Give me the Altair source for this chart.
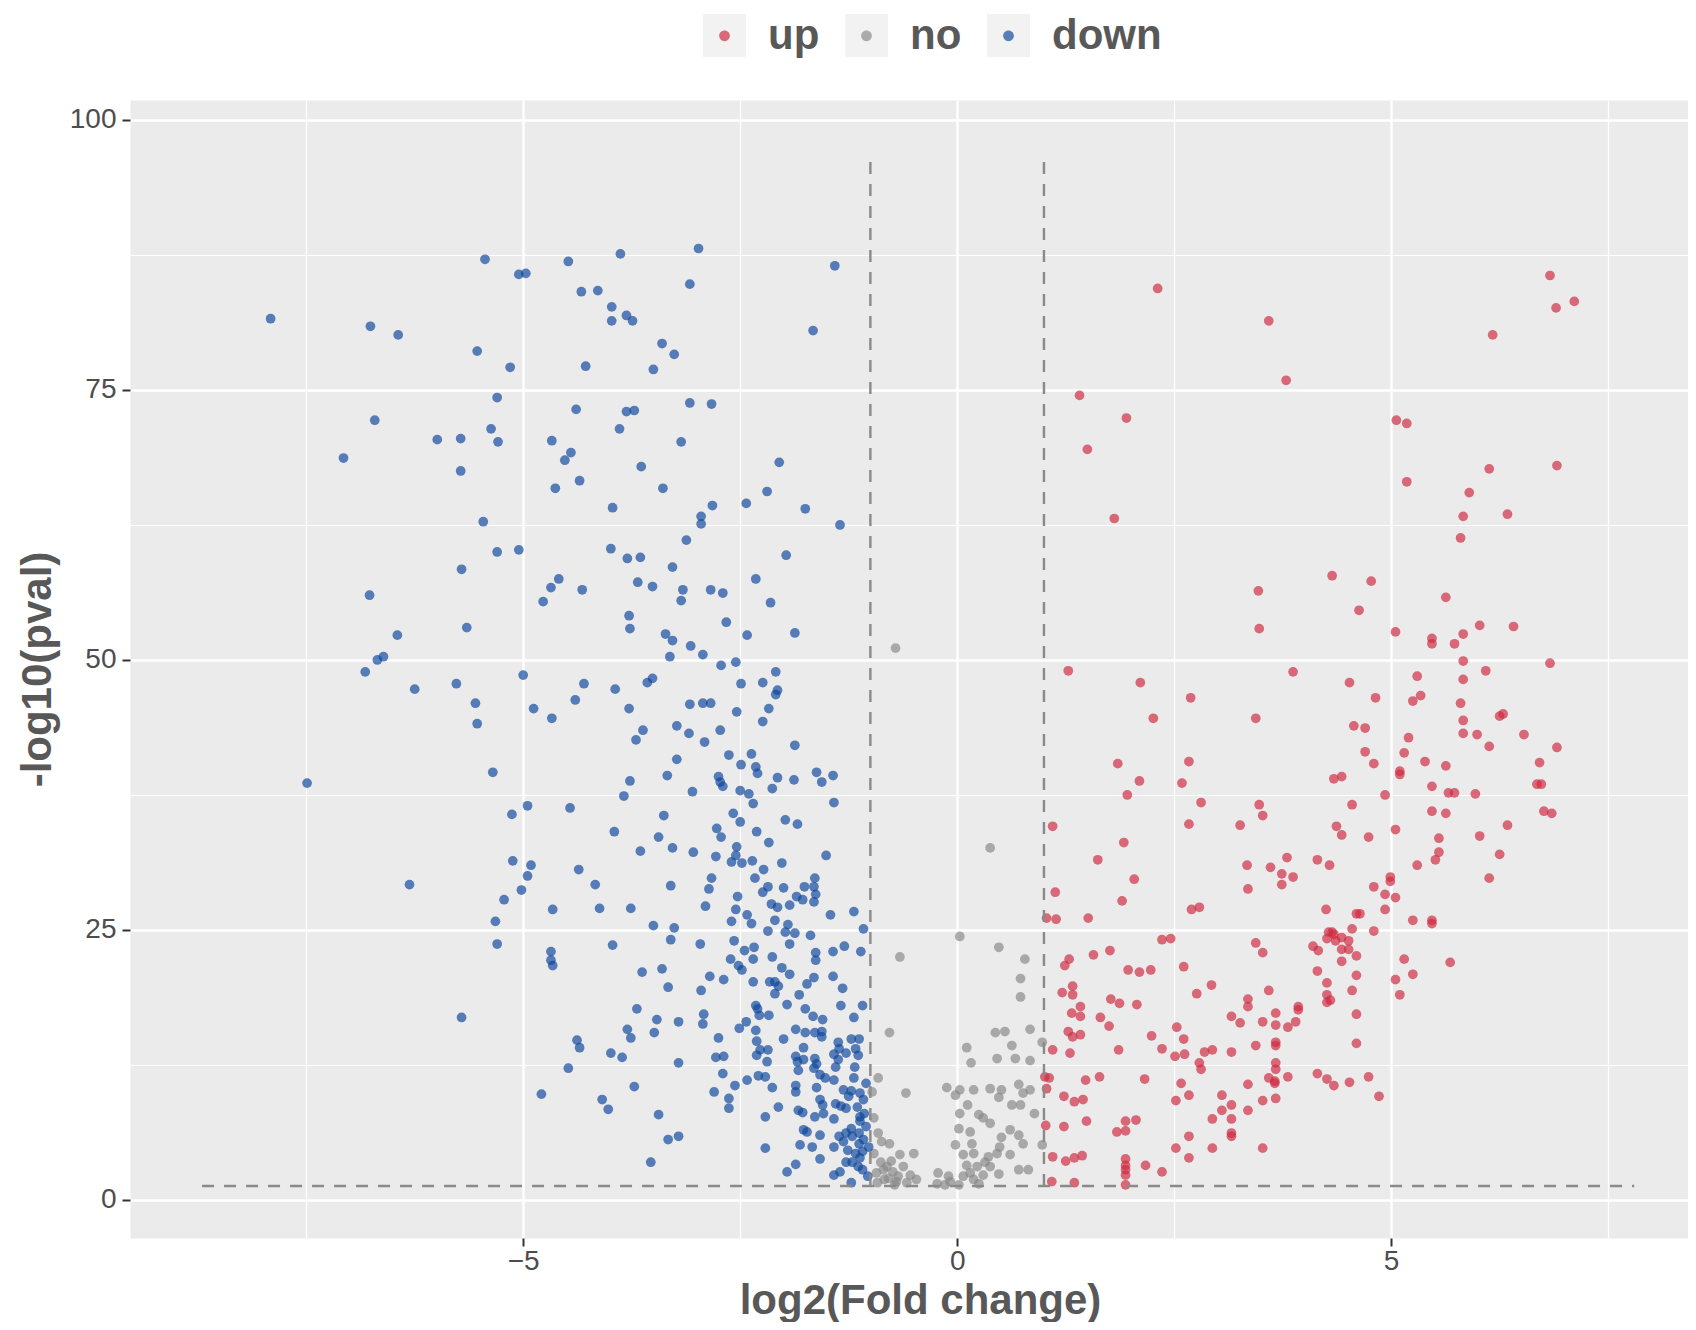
import altair as alt
import pandas as pd

# ---------------- data ----------------
groups = ["up", "no", "down"]
key_ids = ["up_", "no_", "down_"]          # same labels, own domain for the key-background legend
colors = ["#CE2A40", "#878787", "#0E479C"]

x_ticks = [-7.5, -5, -2.5, 0, 2.5, 5, 7.5]
y_ticks = [0, 12.5, 25, 37.5, 50, 62.5, 75, 87.5, 100]

pval_cut = 1.3          # -log10(0.05)
fc_cuts = [-1, 1]       # log2 fold-change thresholds
hline_span = [-8.7, 7.8]
vline_top = 97

down_pts = [
    (-7.91, 81.6), (-5.44, 87.1), (-5.05, 85.7), (-4.97, 85.8), (-6.76, 80.9), (-6.44, 80.1), (-5.53, 78.6),
    (-5.15, 77.1), (-5.30, 74.3), (-6.71, 72.2), (-5.37, 71.4), (-5.99, 70.4), (-5.72, 70.5), (-5.29, 70.2),
    (-7.07, 68.7), (-5.72, 67.5),
    (-2.98, 88.1), (-3.88, 87.6), (-4.48, 86.9), (-1.41, 86.5), (-3.08, 84.8), (-4.33, 84.1), (-4.14, 84.2),
    (-3.98, 82.7), (-3.81, 81.9), (-3.74, 81.4), (-3.98, 81.4), (-1.66, 80.5), (-3.40, 79.3), (-3.26, 78.3),
    (-4.28, 77.2), (-3.50, 76.9), (-3.08, 73.8), (-2.83, 73.7), (-4.39, 73.2), (-3.81, 73.0), (-3.72, 73.1),
    (-3.89, 71.4), (-4.67, 70.3), (-3.18, 70.2), (-4.45, 69.2), (-4.52, 68.5), (-2.05, 68.3), (-3.64, 67.9),
    (-4.35, 66.6), (-4.63, 65.9), (-3.39, 65.9), (-2.19, 65.6),
    (-5.46, 62.8), (-5.30, 60.0), (-5.05, 60.2), (-5.71, 58.4), (-6.77, 56.0), (-5.65, 53.0), (-6.45, 52.3),
    (-6.61, 50.3), (-6.68, 50.0), (-6.82, 48.9), (-6.25, 47.3), (-5.77, 47.8), (-5.55, 46.0), (-5.53, 44.1),
    (-5.00, 48.6), (-4.88, 45.5), (-4.77, 55.4), (-5.35, 39.6), (-7.49, 38.6), (-4.95, 36.5), (-5.13, 35.7),
    (-5.12, 31.4), (-4.91, 31.0), (-4.95, 30.0),
    (-3.97, 64.1), (-2.82, 64.3), (-2.43, 64.5), (-1.75, 64.0), (-2.95, 63.3), (-2.95, 62.6), (-1.35, 62.5),
    (-3.12, 61.1), (-3.99, 60.3), (-3.80, 59.4), (-3.65, 59.5), (-1.97, 59.7), (-3.28, 58.6), (-4.59, 57.5),
    (-4.68, 56.7), (-4.32, 56.5), (-3.68, 57.2), (-3.51, 56.8), (-3.16, 56.5), (-3.18, 55.5), (-2.84, 56.5),
    (-2.70, 56.2), (-2.32, 57.5), (-2.15, 55.3), (-3.78, 54.1), (-3.77, 52.9), (-2.66, 53.5), (-3.36, 52.4),
    (-3.28, 51.8), (-2.42, 52.3), (-1.87, 52.5), (-3.07, 51.3), (-2.93, 50.5), (-3.31, 50.3), (-2.72, 49.5),
    (-2.55, 49.8), (-2.09, 48.9), (-4.30, 47.8), (-3.94, 47.3), (-3.57, 47.9), (-3.51, 48.3), (-2.49, 47.8),
    (-2.24, 47.9), (-2.07, 47.2), (-2.09, 46.8), (-4.40, 46.3), (-3.78, 45.5), (-3.08, 45.9), (-2.93, 46.0),
    (-2.84, 46.0), (-2.54, 45.2), (-2.17, 45.5), (-4.67, 44.6), (-2.24, 44.3), (-3.23, 43.9), (-3.09, 43.2),
    (-3.62, 43.5), (-3.70, 42.6), (-2.91, 42.4), (-2.73, 43.5), (-1.87, 42.1), (-2.63, 41.2), (-2.37, 41.3),
    (-3.23, 40.8), (-2.49, 40.3), (-2.32, 40.1), (-2.30, 39.5), (-3.34, 39.3), (-2.75, 39.2), (-2.73, 38.7),
    (-2.70, 38.3), (-2.07, 39.1), (-1.88, 38.9), (-1.62, 39.6), (-1.56, 38.7), (-1.43, 39.3), (-2.13, 38.1),
    (-3.77, 38.8), (-3.84, 37.4), (-3.05, 37.8), (-2.50, 37.9), (-2.40, 37.6), (-2.35, 36.7), (-1.42, 36.8),
    (-4.46, 36.3), (-3.38, 35.6), (-2.58, 35.8), (-2.50, 35.0), (-1.98, 35.2), (-1.84, 34.8), (-3.95, 34.1),
    (-2.77, 34.4), (-2.72, 33.6), (-2.31, 34.1), (-2.17, 33.1), (-3.44, 33.6), (-3.28, 32.6), (-3.65, 32.3),
    (-3.04, 32.2), (-2.78, 31.8), (-2.54, 32.7), (-2.55, 31.9), (-2.60, 31.3), (-2.48, 31.2), (-2.36, 31.4),
    (-2.23, 30.6), (-2.02, 31.2), (-1.51, 31.9), (-4.36, 30.6), (-2.83, 29.8), (-2.33, 29.8), (-1.64, 29.8),
    (-6.31, 29.2), (-5.02, 28.7), (-5.22, 27.8), (-5.32, 25.8), (-5.30, 23.7), (-5.71, 16.9), (-4.79, 9.8),
    (-4.17, 29.2), (-3.30, 29.1), (-2.86, 28.8), (-1.65, 29.0), (-1.63, 28.3), (-2.18, 29.0), (-2.24, 28.5),
    (-2.00, 28.9), (-1.76, 29.0), (-4.66, 26.9), (-4.12, 27.0), (-3.76, 27.0), (-2.90, 27.2), (-2.53, 28.1),
    (-2.55, 26.9), (-2.14, 27.4), (-2.07, 27.1), (-1.93, 27.3), (-1.85, 28.1), (-1.78, 27.8), (-1.65, 27.6),
    (-1.19, 26.7), (-1.46, 26.4), (-2.42, 26.4), (-2.37, 25.6), (-2.60, 25.8), (-2.10, 25.9), (-3.50, 25.4),
    (-3.26, 25.2), (-2.18, 24.9), (-1.95, 25.5), (-1.98, 24.8), (-1.87, 24.7), (-1.69, 24.5), (-1.08, 25.1),
    (-3.30, 24.1), (-3.97, 23.6), (-2.96, 23.7), (-2.57, 24.0), (-2.34, 23.4), (-1.93, 23.7), (-1.30, 23.5),
    (-4.68, 23.0), (-4.68, 22.2), (-4.66, 21.7), (-2.45, 23.1), (-2.35, 22.3), (-2.13, 22.5), (-1.63, 22.9),
    (-1.63, 22.2), (-1.43, 23.0), (-1.11, 23.0), (-2.61, 22.3), (-2.52, 21.7), (-2.48, 21.3), (-3.63, 21.1),
    (-3.40, 21.4), (-2.02, 21.5), (-1.93, 20.9), (-2.85, 20.7), (-2.69, 20.4), (-2.35, 20.2), (-2.16, 20.2),
    (-2.10, 20.2), (-2.06, 19.8), (-1.65, 20.6), (-1.73, 20.0), (-1.43, 20.7), (-3.33, 19.7), (-2.95, 19.4),
    (-2.10, 19.1), (-1.82, 19.0), (-1.32, 19.6), (-2.32, 18.0), (-2.30, 17.7), (-1.96, 18.1), (-1.75, 17.7),
    (-1.34, 18.0), (-1.09, 18.0), (-3.69, 17.7), (-2.28, 17.1), (-2.17, 17.1), (-1.66, 17.0), (-1.55, 16.7),
    (-1.19, 16.9), (-3.46, 16.7), (-3.21, 16.5), (-2.92, 17.2), (-2.93, 16.3), (-3.80, 15.8), (-3.49, 15.5),
    (-3.76, 15.0), (-2.51, 15.9), (-2.43, 16.5), (-2.32, 15.7), (-1.86, 15.8), (-1.75, 15.5), (-1.64, 15.5),
    (-1.56, 15.6), (-1.56, 15.1), (-2.75, 15.0), (-2.00, 14.9), (-2.31, 14.7), (-1.37, 14.6), (-1.22, 14.9),
    (-1.13, 14.9), (-4.38, 14.8), (-4.35, 14.1), (-2.27, 13.9), (-2.18, 13.9), (-1.77, 14.1), (-1.36, 14.0),
    (-1.17, 14.0), (-3.99, 13.6), (-3.86, 13.2), (-2.78, 13.2), (-2.69, 13.3), (-2.31, 13.4), (-1.86, 13.3),
    (-1.64, 13.1), (-1.42, 13.5), (-1.14, 13.4), (-3.21, 12.7), (-2.19, 12.8), (-1.84, 12.8), (-1.77, 13.0),
    (-1.62, 12.6), (-1.37, 13.0), (-1.40, 12.3), (-4.48, 12.2), (-2.70, 11.7), (-1.83, 12.0), (-1.65, 12.2),
    (-1.58, 11.6), (-1.52, 11.3), (-1.42, 11.1), (-1.19, 11.3), (-2.29, 11.5), (-2.21, 11.4), (-2.56, 10.6),
    (-2.42, 11.1), (-2.13, 10.4), (-1.86, 10.6), (-1.86, 10.0), (-1.62, 10.4), (-1.31, 10.2), (-1.22, 10.1),
    (-1.12, 9.9), (-1.08, 9.3), (-3.72, 10.5), (-2.80, 10.0), (-2.63, 9.4), (-2.63, 8.5), (-4.09, 9.3),
    (-4.02, 8.4), (-2.06, 8.6), (-1.83, 8.3), (-1.78, 8.1), (-1.58, 9.3), (-1.55, 8.8), (-1.54, 8.0),
    (-1.64, 7.7), (-1.40, 8.9), (-1.34, 8.7), (-1.28, 8.5), (-1.42, 7.5), (-1.12, 7.7), (-1.12, 7.3),
    (-1.07, 8.0), (-3.44, 7.9), (-2.21, 7.7), (-1.77, 6.5), (-1.73, 6.3), (-1.58, 6.0), (-1.36, 5.9),
    (-1.28, 6.2), (-1.22, 6.6), (-1.21, 5.9), (-1.31, 5.4), (-1.13, 6.2), (-1.08, 5.6), (-1.13, 5.2),
    (-3.33, 5.6), (-3.21, 5.9), (-1.81, 5.1), (-1.67, 4.9), (-1.42, 4.9), (-2.21, 4.8), (-1.17, 4.3),
    (-1.09, 4.5), (-1.58, 3.8), (-1.28, 3.5), (-1.21, 3.5), (-1.12, 3.9), (-3.53, 3.5), (-1.86, 3.3),
    (-1.96, 2.6), (-1.42, 2.3), (-1.35, 2.6), (-1.09, 2.8), (-1.22, 1.6),
    (-1.05, 6.8), (-1.15, 8.6), (-1.25, 9.6), (-1.05, 10.8), (-1.18, 12.3), (-1.28, 13.6), (-1.02, 4.9),
    (-1.26, 4.6), (-1.14, 3.1), (-1.03, 2.2),
]

no_pts = [
    (-0.71, 51.1), (0.38, 32.6), (-0.66, 22.5), (-0.78, 15.5), (-0.91, 11.3), (-0.59, 9.9), (-0.12, 10.4),
    (-0.98, 10.0), (-0.96, 7.6), (-0.91, 6.2), (-0.78, 5.2), (-0.87, 5.4), (-0.50, 4.3), (-0.66, 4.2),
    (-0.96, 4.3), (-0.88, 3.5), (-0.81, 3.1), (-0.74, 2.6), (-0.62, 3.1), (-0.54, 2.3), (-0.79, 2.0),
    (-0.70, 1.7), (-0.84, 1.9), (-0.47, 1.9), (-0.22, 2.5), (-0.10, 2.2), (-0.23, 1.5), (-0.93, 2.5),
    (-0.72, 1.4), (-0.85, 2.8), (-0.68, 2.2), (-0.58, 1.6), (-0.76, 3.6), (-0.92, 1.6),
    (0.03, 24.4), (0.48, 23.4), (0.78, 22.3), (0.73, 20.5), (0.73, 18.8), (0.44, 15.5), (0.55, 15.6),
    (0.84, 15.8), (0.98, 14.6), (0.11, 14.1), (0.63, 14.3), (0.46, 13.1), (0.67, 13.1), (0.84, 12.9),
    (0.16, 12.7), (0.03, 10.2), (0.19, 10.2), (0.38, 10.3), (0.51, 10.2), (0.48, 9.5), (0.71, 10.7),
    (0.76, 9.9), (0.84, 10.2), (-0.02, 9.7), (0.63, 8.8), (0.73, 8.8), (0.12, 8.8), (0.03, 8.0),
    (0.25, 7.9), (0.30, 7.6), (0.38, 7.1), (0.89, 8.0), (0.02, 6.6), (0.15, 6.3), (0.61, 6.5),
    (0.51, 5.8), (0.71, 6.0), (0.76, 5.2), (0.98, 5.1), (-0.02, 5.1), (0.17, 5.2), (0.49, 4.9),
    (0.07, 4.2), (0.19, 4.3), (0.36, 4.0), (0.46, 4.3), (0.61, 4.2), (0.11, 3.2), (0.23, 3.1),
    (0.32, 3.5), (0.38, 3.1), (0.71, 2.8), (0.82, 2.8), (0.15, 2.5), (0.30, 2.3), (0.48, 2.4),
    (-0.08, 1.7), (0.02, 1.4), (0.19, 1.9), (0.25, 1.5), (-0.14, 1.4), (0.07, 2.2),
]

up_pts = [
    (2.31, 84.4), (3.59, 81.4), (3.79, 75.9), (1.41, 74.5), (1.95, 72.4), (1.50, 69.5),
    (6.83, 85.6), (6.90, 82.6), (7.11, 83.2), (6.17, 80.1), (5.06, 72.2), (5.18, 71.9), (5.18, 66.5),
    (6.13, 67.7), (6.91, 68.0), (5.90, 65.5),
    (1.81, 63.1), (3.47, 56.4), (3.48, 52.9), (1.28, 49.0), (3.87, 48.9), (2.11, 47.9), (2.69, 46.5),
    (2.26, 44.6), (3.44, 44.6), (1.85, 40.4), (2.67, 40.6), (2.10, 38.8), (2.59, 38.6), (1.96, 37.5),
    (2.81, 36.8), (3.48, 36.6), (3.52, 35.6), (1.10, 34.6), (2.67, 34.8), (3.26, 34.7), (1.92, 33.1),
    (1.62, 31.5), (3.34, 31.0), (3.61, 30.8), (3.80, 31.7), (4.15, 31.5), (3.74, 30.2), (3.87, 29.9),
    (2.04, 29.7), (4.29, 31.0),
    (5.83, 63.3), (6.34, 63.5), (5.80, 61.3), (4.32, 57.8), (4.77, 57.3), (5.63, 55.8), (4.63, 54.6),
    (5.05, 52.6), (5.47, 52.0), (5.47, 51.5), (5.73, 51.5), (5.83, 52.4), (6.02, 53.2), (6.41, 53.1),
    (5.83, 49.9), (6.83, 49.7), (6.09, 49.0), (5.30, 48.5), (4.52, 47.9), (5.83, 48.2), (4.82, 46.5),
    (5.25, 46.2), (5.34, 46.7), (5.80, 46.0), (6.25, 44.8), (6.29, 45.0), (5.83, 44.4), (4.57, 43.9),
    (4.70, 43.7), (5.83, 43.2), (5.99, 43.1), (6.53, 43.1), (5.20, 42.8), (6.13, 42.0), (6.91, 41.9),
    (4.70, 41.5), (5.15, 41.4), (5.39, 40.6), (4.80, 40.4), (5.63, 40.2), (6.71, 40.5), (5.10, 39.7),
    (5.10, 39.4), (4.34, 39.0), (4.43, 39.2), (5.47, 38.3), (6.68, 38.5), (6.73, 38.5), (4.93, 37.5),
    (5.66, 37.7), (5.73, 37.7), (5.97, 37.6), (4.55, 36.6), (5.47, 36.0), (5.63, 35.8), (6.76, 36.0),
    (6.85, 35.8), (4.37, 34.6), (4.43, 33.8), (4.74, 33.6), (5.05, 34.3), (5.55, 33.5), (6.02, 33.7),
    (6.34, 34.7), (5.55, 32.2), (5.51, 31.5), (6.25, 32.0), (5.30, 31.0), (4.99, 29.9), (6.13, 29.8),
    (3.35, 28.8), (3.74, 29.2), (4.25, 26.9), (1.13, 28.5), (1.90, 27.7), (2.70, 26.9), (2.79, 27.1),
    (1.03, 26.1), (1.14, 26.0), (1.51, 26.1), (2.36, 24.1), (2.46, 24.2), (3.44, 23.8), (3.52, 22.9),
    (4.10, 23.5), (4.16, 23.1), (4.28, 24.8), (4.26, 24.2), (1.29, 22.3), (1.24, 21.7), (1.57, 22.7),
    (1.76, 23.1), (1.97, 21.3), (2.10, 21.1), (2.23, 21.3), (2.61, 21.6), (4.15, 21.2), (4.26, 20.1),
    (1.21, 19.2), (1.33, 19.8), (1.33, 19.0), (2.76, 19.1), (2.93, 19.9), (3.59, 19.4), (4.26, 19.0),
    (4.26, 18.3), (1.77, 18.6), (1.87, 18.2), (2.07, 18.1), (1.42, 17.9), (1.32, 17.3), (1.42, 17.0),
    (3.35, 18.6), (3.35, 17.9), (3.93, 17.9), (3.93, 17.6), (3.67, 17.3), (3.16, 17.0), (3.26, 16.4),
    (3.52, 16.5), (3.67, 16.2), (3.81, 16.0), (3.90, 16.5), (1.65, 16.9), (1.75, 16.1), (1.28, 15.6),
    (1.33, 15.1), (1.42, 15.3), (2.24, 15.2), (2.53, 16.0), (2.61, 14.9), (1.10, 13.9), (1.30, 13.6),
    (1.86, 13.9), (2.36, 14.0), (2.51, 13.3), (2.62, 13.5), (2.85, 13.7), (2.94, 13.9), (3.16, 13.7),
    (3.44, 14.3), (3.67, 14.6), (3.67, 14.3), (2.79, 12.7), (2.81, 12.1), (3.67, 12.7), (3.67, 12.1),
    (4.15, 11.7), (4.26, 11.2), (3.59, 11.3), (3.66, 11.0), (3.66, 10.8), (3.81, 11.4), (1.01, 11.4),
    (1.06, 11.3), (1.03, 10.3), (1.48, 11.1), (1.64, 11.4), (2.16, 11.2), (2.58, 10.8), (3.35, 10.7),
    (1.23, 9.6), (1.35, 9.1), (1.45, 9.3), (2.52, 9.2), (2.67, 9.7), (3.05, 9.7), (3.16, 8.8),
    (3.52, 9.2), (3.67, 9.4), (3.05, 8.3), (3.35, 8.3), (3.16, 7.5), (2.94, 7.5), (1.49, 7.3),
    (1.94, 7.3), (2.06, 7.4), (1.84, 6.3), (1.94, 6.4), (1.02, 6.9), (1.23, 6.8), (3.16, 6.2),
    (3.16, 5.9), (2.67, 5.9), (2.52, 4.8), (2.94, 4.8), (3.52, 4.8), (2.67, 3.9), (1.10, 4.0),
    (1.25, 3.6), (1.35, 3.9), (1.44, 4.1), (1.94, 3.8), (1.94, 3.2), (1.94, 2.8), (1.94, 2.3),
    (1.94, 1.4), (2.17, 3.2), (2.36, 2.6), (1.09, 1.7), (1.35, 1.6),
    (4.99, 29.5), (4.80, 29.0), (4.93, 28.3), (5.05, 28.0), (4.93, 26.9), (4.60, 26.5), (4.64, 26.5),
    (5.25, 25.9), (5.47, 25.9), (5.47, 25.6), (4.55, 25.1), (4.80, 24.9), (4.32, 24.8), (4.34, 24.6),
    (4.36, 24.0), (4.43, 24.3), (4.51, 24.0), (4.43, 23.2), (4.51, 23.2), (4.60, 22.6), (4.43, 22.1),
    (5.15, 22.3), (5.68, 22.0), (5.25, 20.9), (5.05, 20.4), (5.10, 19.0), (4.60, 20.8), (4.55, 19.4),
    (4.30, 18.5), (4.60, 17.2), (4.60, 14.5), (4.34, 10.6), (4.52, 10.9), (4.74, 11.4), (4.86, 9.6),
]

# ---------------- table built from the arrays ----------------
frames = []
for name, pts in [("no", no_pts), ("down", down_pts), ("up", up_pts)]:
    frames.append(pd.DataFrame({"log2fc": [p[0] for p in pts],
                                "nlogp": [p[1] for p in pts],
                                "group": name}))
df = pd.concat(frames, ignore_index=True)

hline_df = pd.DataFrame({"log2fc": [hline_span[0]], "x_end": [hline_span[1]], "nlogp": [pval_cut]})
vline_df = pd.DataFrame({"log2fc": fc_cuts, "nlogp": [pval_cut] * 2, "y_end": [vline_top] * 2})
key_df = pd.DataFrame({"key": key_ids})

# ---------------- styling ----------------
FONT = "Liberation Sans"
TITLE_COLOR = "#585858"
major_x = "datum.value % 5 === 0"
major_y = "datum.value % 25 === 0"

x_scale = alt.Scale(domain=[-9.53, 8.42], nice=False, zero=False)
y_scale = alt.Scale(domain=[-3.52, 101.85], nice=False, zero=False)

x_axis = alt.Axis(
    values=x_ticks, title="log2(Fold change)",
    labelExpr=f"{major_x} ? datum.label : ''",
    labelFontSize=28, labelColor="#4D4D4D", labelPadding=1, labelFont=FONT, labelFlush=False,
    tickSize=8, tickWidth=2,
    tickColor={"condition": {"test": major_x, "value": "#333333"}, "value": "transparent"},
    grid=True, gridColor="white",
    gridWidth={"condition": {"test": major_x, "value": 2.4}, "value": 1.2},
    domain=False,
    titleFontSize=42, titleFontWeight="bold", titleColor=TITLE_COLOR, titleFont=FONT,
    titleX=790, titleY=75, titleAlign="center", titleBaseline="alphabetic",
)
y_axis = alt.Axis(
    values=y_ticks, title="-log10(pval)",
    labelExpr=f"{major_y} ? datum.label : ''",
    labelFontSize=28, labelColor="#4D4D4D", labelPadding=6, labelFont=FONT, labelFlush=False,
    tickSize=8, tickWidth=2,
    tickColor={"condition": {"test": major_y, "value": "#333333"}, "value": "transparent"},
    grid=True, gridColor="white",
    gridWidth={"condition": {"test": major_y, "value": 2.4}, "value": 1.2},
    domain=False,
    titleFontSize=42, titleFontWeight="bold", titleColor=TITLE_COLOR, titleFont=FONT,
    titleAngle=270, titleX=-80, titleY=569, titleAlign="center", titleBaseline="alphabetic",
)

dot_path = "M-0.25,0A0.25,0.25,0,1,1,0.25,0A0.25,0.25,0,1,1,-0.25,0Z"
legend_common = dict(
    title=None, orient="none", legendX=573, legendY=-86, direction="horizontal",
    symbolSize=1849, symbolStrokeWidth=0, labelFontSize=42, labelFontWeight="bold",
    labelFont=FONT, labelOffset=22, columnPadding=25, padding=0,
)
color_legend = alt.Legend(symbolType=dot_path, zindex=2, labelColor=TITLE_COLOR, **legend_common)
key_legend = alt.Legend(symbolFillColor="#F2F2F2", symbolType="square", labelOpacity=0, zindex=1,
                        symbolOpacity=1, labelColor=TITLE_COLOR,
                        labelExpr="replace(datum.label, '_', '')", **legend_common)

X = alt.X("log2fc:Q", scale=x_scale, axis=x_axis)
Y = alt.Y("nlogp:Q", scale=y_scale, axis=y_axis)

points = alt.Chart(df).mark_circle(size=95, opacity=0.68).encode(
    x=X, y=Y,
    color=alt.Color("group:N", scale=alt.Scale(domain=groups, range=colors), legend=color_legend),
)

keys = alt.Chart(key_df).mark_point(filled=True, opacity=0, color="#F2F2F2", size=10).encode(
    shape=alt.Shape("key:N", scale=alt.Scale(domain=key_ids, range=["square"] * 3), legend=key_legend),
)

dash = dict(color="#8A8A8A", strokeDash=[12, 10], strokeWidth=2.4)
hline = alt.Chart(hline_df).mark_rule(**dash).encode(x=X, x2="x_end:Q", y=Y)
vlines = alt.Chart(vline_df).mark_rule(**dash).encode(x=X, y=Y, y2="y_end:Q")

chart = alt.layer(keys, points, hline, vlines).properties(
    width=1558, height=1138,
    padding={"left": 122, "top": 92, "right": 0, "bottom": 84},
    autosize=alt.AutoSizeParams(type="none"),
).configure(font=FONT).configure_view(fill="#EBEBEB", stroke="transparent")

chart.save("out.html", embed_options={"renderer": "svg", "actions": False})
